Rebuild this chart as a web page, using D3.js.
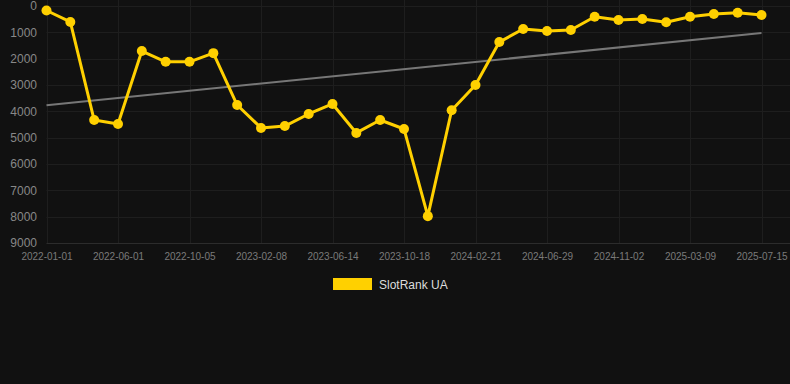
<!DOCTYPE html>
<html><head><meta charset="utf-8">
<script src="https://cdn.jsdelivr.net/npm/d3@7"></script>
<style>html,body{margin:0;padding:0;background:#111111;}svg{display:block;}</style>
</head><body><svg id="c" width="790" height="384"></svg>
<script>
const dates = ["2022-01-01","2022-02-20","2022-04-11","2022-06-01","2022-07-13","2022-08-24","2022-10-05","2022-11-16","2022-12-28","2023-02-08","2023-03-22","2023-05-03","2023-06-14","2023-07-26","2023-09-06","2023-10-18","2023-11-29","2024-01-10","2024-02-21","2024-04-03","2024-05-16","2024-06-29","2024-08-10","2024-09-21","2024-11-02","2024-12-14","2025-01-25","2025-03-09","2025-04-20","2025-06-02","2025-07-15"];
const rankValues = [170,605,4330,4480,1710,2120,2120,1790,3760,4630,4560,4100,3720,4820,4330,4670,7980,3960,3000,1370,873,949,911,406,532,494,619,406,304,254,342];
const trendValues = [3770,1025];
const yTicks = [0,1000,2000,3000,4000,5000,6000,7000,8000,9000];
const xTickLabels = dates.filter((d,i)=>i%3===0);
const seriesName = "SlotRank UA";

const svg = d3.select("#c");
const x = d3.scalePoint().domain(dates).range([46.5,761.5]);
const y = d3.scaleLinear().domain([0,9000]).range([6,243]);

// grid
const g = svg.append("g");
g.selectAll("line.h").data(yTicks).join("line")
  .attr("x1",46.5).attr("x2",790).attr("y1",d=>Math.round(y(d))+0.5).attr("y2",d=>Math.round(y(d))+0.5)
  .attr("stroke",d=>d===9000?"#2c2c2c":"#1e1e1e").attr("stroke-width",1);
g.selectAll("line.v").data(xTickLabels).join("line")
  .attr("x1",d=>Math.round(x(d))+0.5).attr("x2",d=>Math.round(x(d))+0.5).attr("y1",0).attr("y2",243)
  .attr("stroke","#1e1e1e").attr("stroke-width",1);

// y axis labels
const yAxis = d3.axisLeft(y).tickValues(yTicks).tickSize(0).tickPadding(0).tickFormat(d3.format("d"));
const ya = svg.append("g").attr("transform","translate(37,0)").call(yAxis);
ya.select(".domain").remove();
ya.selectAll("text").attr("fill","#888888").style("font-family","'Liberation Sans',Arial,sans-serif").style("font-size","12px");

// x axis labels
const xAxis = d3.axisBottom(x).tickValues(xTickLabels).tickSize(0).tickPadding(0);
const xa = svg.append("g").attr("transform","translate(0,253)").call(xAxis);
xa.select(".domain").remove();
xa.selectAll("text").attr("fill","#7a7a7a").style("font-family","'Liberation Sans',Arial,sans-serif").style("font-size","10px");

// trend line
svg.append("line")
  .attr("x1",x(dates[0])).attr("y1",y(trendValues[0]))
  .attr("x2",x(dates[dates.length-1])).attr("y2",y(trendValues[1]))
  .attr("stroke","#777777").attr("stroke-width",2);

// series line
const line = d3.line().x((d,i)=>x(dates[i])).y(d=>y(d));
svg.append("path").datum(rankValues).attr("d",line)
  .attr("fill","none").attr("stroke","#ffd000").attr("stroke-width",3).attr("stroke-linejoin","round");
svg.selectAll("circle.p").data(rankValues).join("circle")
  .attr("cx",(d,i)=>x(dates[i])).attr("cy",d=>y(d)).attr("r",5).attr("fill","#ffd000");

// legend
svg.append("rect").attr("x",333).attr("y",278).attr("width",39).attr("height",12).attr("fill","#ffd000");
svg.append("text").attr("x",379).attr("y",289).text(seriesName)
  .attr("fill","#dddddd").style("font-family","'Liberation Sans',Arial,sans-serif").style("font-size","12px");
</script></body></html>
